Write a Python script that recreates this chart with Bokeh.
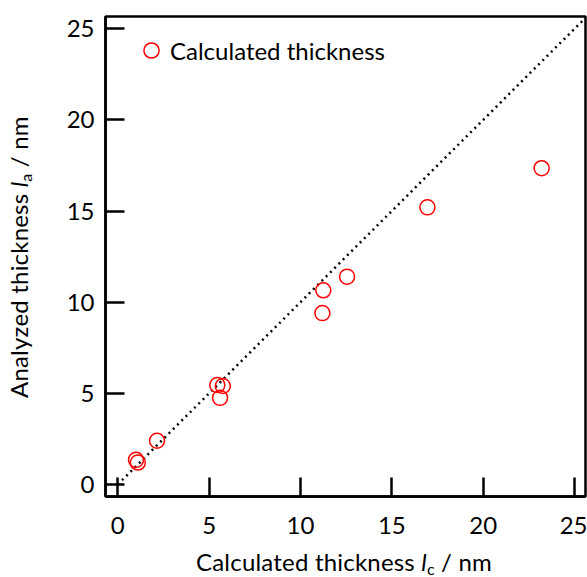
from bokeh.plotting import figure
from bokeh.models import Range1d, FixedTicker, Legend, LegendItem, Div
from bokeh.layouts import row, column
from bokeh.embed import file_html
from bokeh.resources import INLINE

# data: calculated thickness (x) vs analyzed thickness (y), nm
calc_thickness = [1.0, 1.1, 2.15, 5.45, 5.75, 5.6, 11.2, 11.25, 12.55, 16.95, 23.2]
anal_thickness = [1.35, 1.2, 2.4, 5.45, 5.4, 4.75, 9.4, 10.65, 11.4, 15.2, 17.35]
diag = [0.0, 25.5]
ticks = [0, 5, 10, 15, 20, 25]
x_title = ("Calculated thickness ", "l", "c", " / nm")
y_title = ("Analyzed thickness ", "l", "a", " / nm")

FONT = "Lato"
FS = 24

p = figure(width=537, height=545, output_backend="svg", toolbar_location=None,
           x_range=Range1d(-0.67, 25.6), y_range=Range1d(-0.66, 25.67),
           min_border_left=55, min_border_right=2, min_border_top=16, min_border_bottom=49,
           margin=0)
p.grid.visible = False
p.outline_line_color = "black"
p.outline_line_width = 2.5
p.background_fill_color = "white"
p.border_fill_color = "white"

for ax in (p.xaxis[0], p.yaxis[0]):
    ax.ticker = FixedTicker(ticks=ticks)
    ax.major_tick_in = 19
    ax.major_tick_out = 0
    ax.minor_tick_in = 0
    ax.minor_tick_out = 0
    ax.major_tick_line_width = 2.5
    ax.major_tick_line_color = "black"
    ax.axis_line_width = 2.5
    ax.axis_line_color = "black"
    ax.major_label_text_font = FONT
    ax.major_label_text_font_size = f"{FS}px"
    ax.major_label_text_color = "black"
    ax.axis_label = None
p.xaxis[0].major_label_standoff = 20
p.yaxis[0].major_label_standoff = 11

p.line(diag, diag, line_color="black", line_width=2.5, line_dash="2 4")
r = p.scatter(calc_thickness, anal_thickness, size=15, marker="circle",
              fill_color=None, line_color="red", line_width=1.5)

legend = Legend(items=[LegendItem(label="Calculated thickness", renderers=[r])],
                location=(27, 427), border_line_alpha=0, background_fill_alpha=0,
                label_text_font=FONT, label_text_font_size=f"{FS}px",
                label_text_color="black",
                glyph_width=38, glyph_height=38, label_standoff=0, padding=0, margin=0)
p.add_layout(legend)


def title_html(parts, transform):
    main, it, sub, rest = parts
    return (f'<div style="transform:{transform};transform-origin:0 0;white-space:nowrap;'
            f'width:max-content;font-family:{FONT};font-size:{FS}px;line-height:{FS}px;color:black;'
            f'letter-spacing:0.2px;">'
            f'{main}<i>{it}</i><span style="font-size:16px;position:relative;top:4px;">{sub}</span>{rest}</div>')


ydiv = Div(text=title_html(y_title, "translate(7px, 398px) rotate(-90deg)"),
           width=50, height=545, margin=0, styles={"overflow": "visible"})
xdiv = Div(text=title_html(x_title, "translate(196px, 5px)"),
           width=587, height=32, margin=0, styles={"overflow": "visible"})

layout = column(row(ydiv, p, spacing=0, margin=0), xdiv, spacing=0, margin=0)

open("out.html", "w").write(file_html(layout, INLINE))
